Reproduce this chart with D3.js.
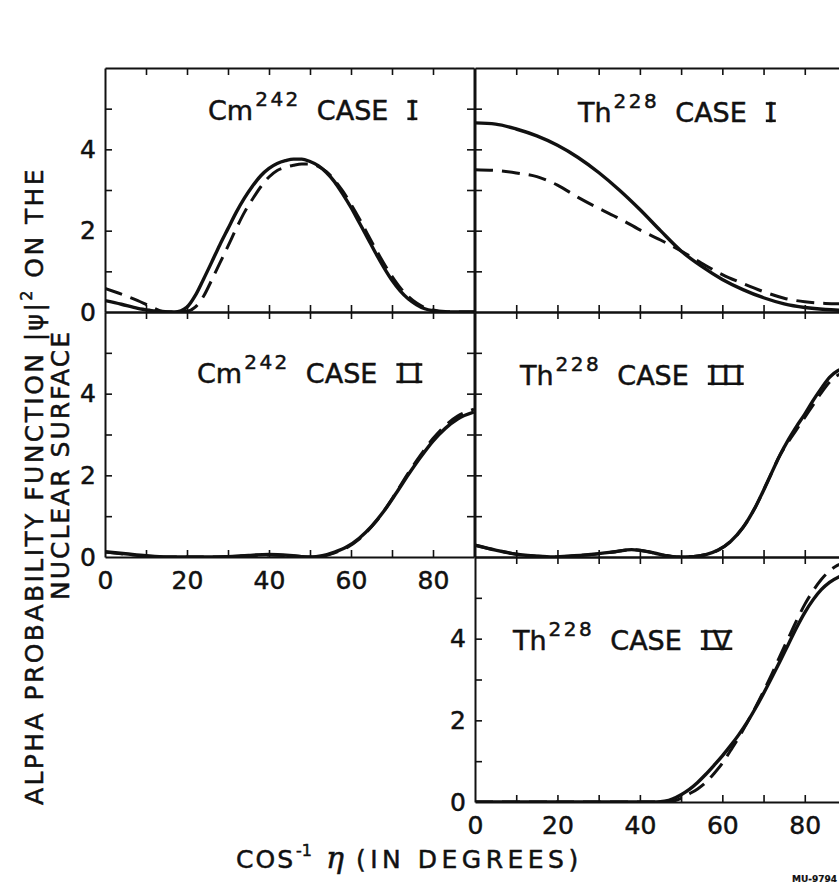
<!DOCTYPE html>
<html>
<head>
<meta charset="utf-8">
<script src="https://cdn.jsdelivr.net/npm/d3@7/dist/d3.min.js"></script>
<style>
body { margin: 0; background: #fff; }
text { font-family: "DejaVu Sans", sans-serif; fill: #111; stroke: #111; stroke-width: 0.5px; }
</style>
</head>
<body>
<div id="chart"></div>
<script>
var xTicks = [10, 20, 30, 40, 50, 60, 70, 80]
var yTicks = [1, 2, 3, 4, 5]
var xTickLabels = [0, 20, 40, 60, 80]
var yTickLabels = [0, 2, 4]

var elements = ["Cm", "Th", "Cm", "Th", "Th"]
var massNumbers = ["242", "228", "242", "228", "228"]
var caseNumerals = ["I", "I", "II", "III", "IV"]

// solid = full curve, dashed = approximation, one angle grid per panel
var cmCase1Angles = [0, 4, 8, 11, 14, 17, 20, 22, 24, 26, 28, 30, 32, 34, 36, 38, 40, 42, 44, 46, 48, 50, 52, 54, 56, 58, 60, 62, 64, 66, 68, 70, 72, 74, 76, 78, 80, 83, 86, 90]
var cmCase1Solid = [0.28, 0.19, 0.09, 0.04, 0.0, 0.0, 0.12, 0.4, 0.8, 1.22, 1.65, 2.05, 2.45, 2.8, 3.1, 3.35, 3.53, 3.65, 3.72, 3.76, 3.76, 3.7, 3.6, 3.43, 3.2, 2.9, 2.57, 2.2, 1.83, 1.45, 1.1, 0.78, 0.52, 0.32, 0.18, 0.08, 0.03, 0.0, 0.0, 0.0]
var cmCase1Dashed = [0.58, 0.44, 0.28, 0.14, 0.02, 0.0, 0.02, 0.12, 0.38, 0.78, 1.2, 1.62, 2.05, 2.45, 2.78, 3.08, 3.32, 3.48, 3.56, 3.61, 3.64, 3.64, 3.58, 3.45, 3.24, 2.97, 2.65, 2.3, 1.92, 1.55, 1.2, 0.88, 0.6, 0.38, 0.22, 0.11, 0.05, 0.01, 0.0, 0.0]

var thCase1Angles = [0, 5, 10, 15, 20, 25, 30, 35, 40, 45, 50, 55, 60, 65, 70, 75, 80, 85, 90]
var thCase1Solid = [4.65, 4.62, 4.5, 4.33, 4.1, 3.8, 3.43, 3.0, 2.52, 2.0, 1.5, 1.12, 0.8, 0.55, 0.35, 0.2, 0.11, 0.06, 0.04]
var thCase1Dashed = [3.5, 3.48, 3.42, 3.33, 3.12, 2.82, 2.55, 2.3, 2.02, 1.77, 1.5, 1.2, 0.92, 0.7, 0.5, 0.34, 0.25, 0.21, 0.2]

var cmCase2Angles = [0, 5, 10, 15, 20, 25, 30, 35, 40, 45, 50, 53, 56, 59, 62, 65, 68, 71, 74, 77, 80, 83, 86, 90]
var cmCase2Solid = [0.13, 0.08, 0.03, 0.0, 0.0, 0.0, 0.01, 0.04, 0.06, 0.04, 0.0, 0.03, 0.12, 0.25, 0.46, 0.75, 1.12, 1.56, 2.02, 2.45, 2.84, 3.15, 3.38, 3.55]
var cmCase2Dashed = [0.12, 0.07, 0.02, 0.0, 0.0, 0.0, 0.01, 0.03, 0.05, 0.03, 0.0, 0.02, 0.1, 0.23, 0.44, 0.74, 1.12, 1.58, 2.06, 2.5, 2.9, 3.22, 3.45, 3.62]

var thCase3Angles = [0, 5, 10, 15, 19, 24, 29, 34, 38, 42, 46, 49, 53, 56, 59, 62, 65, 68, 71, 74, 76, 78, 80, 82, 84, 86, 88, 90]
var thCase3Solid = [0.29, 0.17, 0.07, 0.02, 0.0, 0.03, 0.07, 0.13, 0.18, 0.13, 0.04, 0.0, 0.01, 0.06, 0.17, 0.38, 0.72, 1.22, 1.85, 2.5, 2.87, 3.2, 3.5, 3.83, 4.13, 4.4, 4.56, 4.63]
var thCase3Dashed = [0.29, 0.17, 0.07, 0.02, 0.0, 0.03, 0.07, 0.13, 0.18, 0.13, 0.04, 0.0, 0.01, 0.06, 0.17, 0.38, 0.72, 1.22, 1.85, 2.5, 2.82, 3.12, 3.42, 3.72, 4.02, 4.28, 4.45, 4.53]

var thCase4Angles = [0, 10, 20, 30, 40, 44, 46, 48, 50, 52, 54, 56, 58, 60, 62, 64, 66, 68, 70, 72, 74, 76, 78, 80, 82, 84, 86, 88, 90]
var thCase4Solid = [0, 0, 0, 0, 0, 0, 0.02, 0.08, 0.18, 0.31, 0.48, 0.68, 0.9, 1.13, 1.38, 1.65, 1.95, 2.29, 2.66, 3.05, 3.45, 3.86, 4.27, 4.64, 4.95, 5.2, 5.38, 5.5, 5.57]
var thCase4Dashed = [0, 0, 0, 0, 0, 0, 0, 0.02, 0.09, 0.2, 0.32, 0.48, 0.7, 0.95, 1.26, 1.58, 1.94, 2.31, 2.71, 3.13, 3.58, 4.01, 4.44, 4.84, 5.17, 5.45, 5.66, 5.8, 5.88]

var width = 839, height = 885
var cols = [[105, 474], [475, 846]]
var rows = [[312, 68], [557, 312], [802, 557]]

var panels = [
	{col: 0, row: 0, angles: cmCase1Angles, solid: cmCase1Solid, dashed: cmCase1Dashed, title: [208, 120], left: true, bottom: false},
	{col: 1, row: 0, angles: thCase1Angles, solid: thCase1Solid, dashed: thCase1Dashed, title: [578, 122], left: false, bottom: false},
	{col: 0, row: 1, angles: cmCase2Angles, solid: cmCase2Solid, dashed: cmCase2Dashed, title: [197, 383], left: true, bottom: true},
	{col: 1, row: 1, angles: thCase3Angles, solid: thCase3Solid, dashed: thCase3Dashed, title: [520, 385], left: false, bottom: false},
	{col: 1, row: 2, angles: thCase4Angles, solid: thCase4Solid, dashed: thCase4Dashed, title: [513, 650], left: true, bottom: true}
]

var svg = d3.select("#chart").append("svg")
	.attr("width", width)
	.attr("height", height)

function styleAxis(g, fontSize) {
	g.attr("font-family", "DejaVu Sans").attr("font-size", fontSize)
	g.select(".domain").attr("stroke", "#111").attr("stroke-width", 2)
	g.selectAll(".tick line").attr("stroke", "#111").attr("stroke-width", 1.6)
	g.selectAll(".tick text").attr("fill", "#111")
}

function drawTitle(x, y, el, mass, numeral) {
	var t = svg.append("text")
		.attr("x", x)
		.attr("y", y)
		.style("font-size", "27px")
	t.append("tspan").text(el)
	t.append("tspan").attr("dy", -14).attr("dx", 2).style("font-size", "20px").style("letter-spacing", "2.5px").text(mass)
	t.append("tspan").attr("dy", 14).attr("dx", 16).text("CASE")
	var box = t.node().getBBox()

	var n = svg.append("text")
		.attr("x", box.x + box.width + 20)
		.attr("y", y)
		.style("font-size", "27px")
	var gaps = {I: [0], II: [0, 8], III: [0, 5, 5], IV: [0, 3]}[numeral]
	numeral.split("").forEach(function(ch, i) {
		n.append("tspan").attr("dx", gaps[i]).text(ch)
	})
	var node = n.node()
	var a = node.getExtentOfChar(0)
	var b = node.getExtentOfChar(numeral.length - 1)
	var x0 = a.x - 1, x1 = b.x + b.width + 1
	var top = y - 27 * 0.729
	;[top + 1.2, y - 1.2].forEach(function(yy) {
		svg.append("line")
			.attr("x1", x0).attr("x2", x1)
			.attr("y1", yy).attr("y2", yy)
			.attr("stroke", "#111")
			.attr("stroke-width", 2.6)
	})
}

panels.forEach(function(p, i) {
	var x = d3.scaleLinear().domain([0, 90]).range(cols[p.col])
	var y = d3.scaleLinear().domain([0, 6]).range(rows[p.row])

	var clipId = "clip" + i
	svg.append("clipPath").attr("id", clipId)
		.append("rect")
		.attr("x", x(0)).attr("y", y(6))
		.attr("width", x(90) - x(0)).attr("height", y(0) - y(6))

	var line = d3.line()
		.x(function(d) { return x(d[0]) })
		.y(function(d) { return y(d[1]) })
		.curve(d3.curveMonotoneX)

	var plot = svg.append("g").attr("clip-path", "url(#" + clipId + ")")
	plot.append("path")
		.datum(d3.zip(p.angles, p.dashed))
		.attr("d", line)
		.attr("fill", "none")
		.attr("stroke", "#111")
		.attr("stroke-width", 3)
		.attr("stroke-dasharray", "18,9")
	plot.append("path")
		.datum(d3.zip(p.angles, p.solid))
		.attr("d", line)
		.attr("fill", "none")
		.attr("stroke", "#111")
		.attr("stroke-width", 3.4)

	svg.append("g")
		.attr("transform", "translate(0," + y(0) + ")")
		.call(d3.axisBottom(x).tickValues(xTicks).tickSizeInner(-7).tickSizeOuter(0).tickFormat(""))
		.call(styleAxis, 25)
	svg.append("g")
		.attr("transform", "translate(0," + y(6) + ")")
		.call(d3.axisTop(x).tickValues(xTicks).tickSizeInner(-7).tickSizeOuter(0).tickFormat(""))
		.call(styleAxis, 25)
	svg.append("g")
		.attr("transform", "translate(" + x(0) + ",0)")
		.call(d3.axisLeft(y).tickValues(yTicks).tickSizeInner(-7).tickSizeOuter(0).tickFormat(""))
		.call(styleAxis, 25)
	svg.append("g")
		.attr("transform", "translate(" + x(90) + ",0)")
		.call(d3.axisRight(y).tickValues(yTicks).tickSizeInner(-7).tickSizeOuter(0).tickFormat(""))
		.call(styleAxis, 25)

	if (p.bottom) {
		var bl = svg.append("g")
			.attr("transform", "translate(0," + y(0) + ")")
			.call(d3.axisBottom(x).tickValues(xTickLabels).tickSize(0).tickPadding(14).tickFormat(d3.format("d")))
			.call(styleAxis, 25)
		bl.select(".domain").remove()
	}
	if (p.left) {
		var ll = svg.append("g")
			.attr("transform", "translate(" + x(0) + ",0)")
			.call(d3.axisLeft(y).tickValues(yTickLabels).tickSize(0).tickPadding(9).tickFormat(d3.format("d")))
			.call(styleAxis, 25)
		ll.select(".domain").remove()
	}

	drawTitle(p.title[0], p.title[1], elements[i], massNumbers[i], caseNumerals[i])
})

// x axis title
var xt = svg.append("text")
	.attr("x", 236)
	.attr("y", 868)
	.style("font-size", "25px")
xt.append("tspan").style("letter-spacing", "2px").text("COS")
xt.append("tspan").attr("dy", -12).attr("dx", 1).style("font-size", "16px").text("-1")
xt.append("tspan").attr("dy", 12).attr("dx", 14)
	.style("font-family", "DejaVu Serif").style("font-style", "italic").style("font-size", "30px").text("η")
xt.append("tspan").attr("dx", 12).style("letter-spacing", "4.5px").text("(IN DEGREES)")

// y axis title, two lines, stretched to the reference length
function yTitle(cx, cy, target, build) {
	var t = svg.append("text")
		.attr("transform", "translate(" + cx + "," + cy + ") rotate(-90)")
		.attr("text-anchor", "middle")
		.style("font-size", "25px")
	build(t)
	var natural = t.node().getComputedTextLength()
	var chars = t.text().length
	t.style("letter-spacing", ((target - natural) / chars) + "px")
}
yTitle(43, 486, 638, function(t) {
	t.append("tspan").text("ALPHA PROBABILITY FUNCTION |ψ|")
	t.append("tspan").attr("dy", -11).style("font-size", "16px").text("2")
	t.append("tspan").attr("dy", 11).text(" ON THE")
})
yTitle(69, 465, 270, function(t) {
	t.append("tspan").text("NUCLEAR SURFACE")
})

svg.append("text")
	.attr("x", 837)
	.attr("y", 882)
	.attr("text-anchor", "end")
	.style("font-size", "9px")
	.style("stroke-width", "0.2px")
	.style("font-weight", "bold")
	.text("MU-9794")
</script>
</body>
</html>
